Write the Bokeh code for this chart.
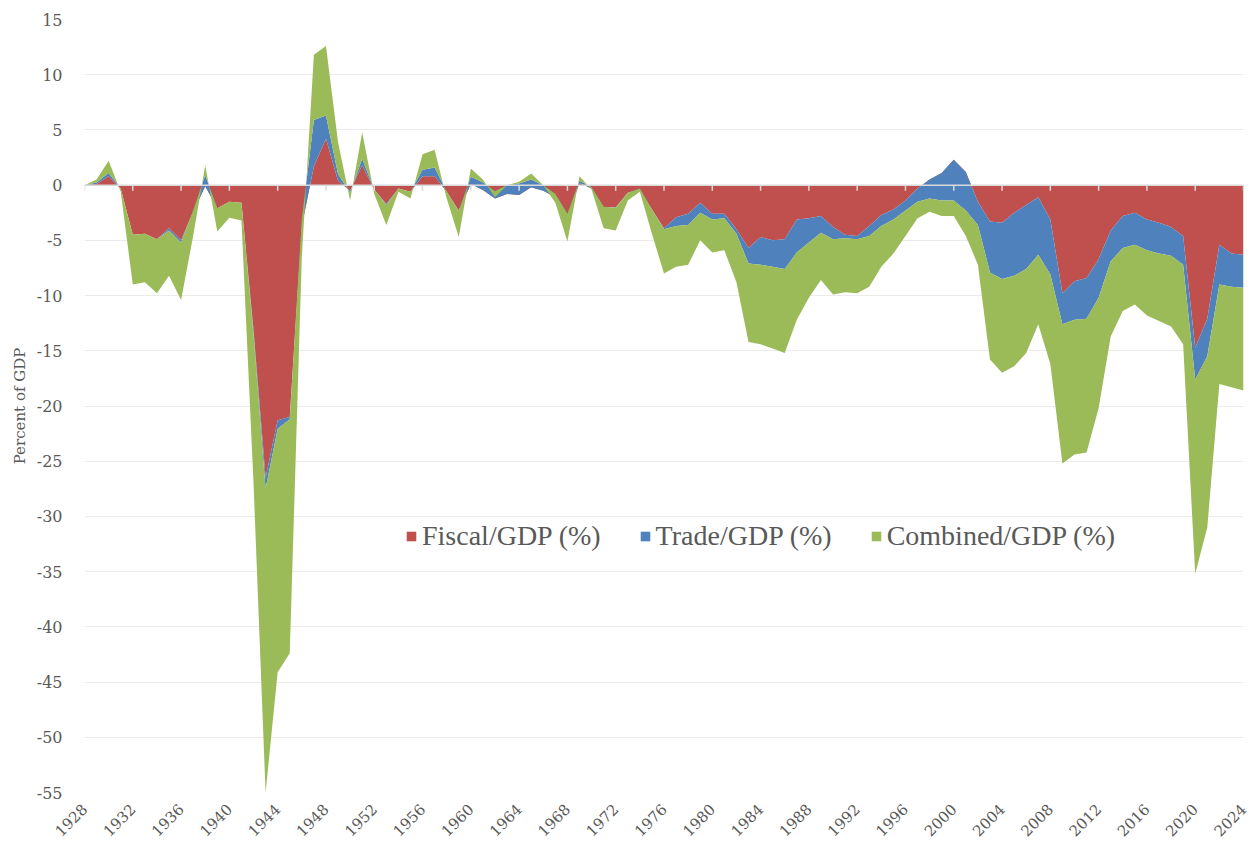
import math
from bokeh.plotting import figure
from bokeh.models import (Range1d, FixedTicker, Span, Legend, LegendItem,
                          ColumnDataSource, PrintfTickFormatter)
from bokeh.embed import file_html
from bokeh.resources import INLINE

years = list(range(1928, 2025))

fiscal = [
    0.0, 0.1, 0.8, -0.3, -4.5, -4.4, -4.9, -3.9, -5.0, -2.4,
    -0.1, -2.1, -1.5, -1.6, -13.1, -26.5, -21.3, -21.0, -3.7, 1.7,
    4.2, 0.4, -0.5, 1.8, -0.4, -1.7, -0.3, -0.6, 0.8, 0.8,
    -0.6, -2.3, 0.1, -0.45, -1.2, -0.8, -0.9, -0.2, -0.5, -1.1,
    -2.8, 0.2, -0.3, -2.0, -2.0, -0.7, -0.4, -2.2, -3.9, -2.9,
    -2.6, -1.6, -2.6, -2.6, -4.0, -5.7, -4.7, -5.0, -4.9, -3.1,
    -3.0, -2.8, -3.8, -4.5, -4.6, -3.7, -2.7, -2.2, -1.4, -0.3,
    0.5, 1.1, 2.3, 1.2, -1.5, -3.3, -3.4, -2.5, -1.8, -1.1,
    -3.1, -9.8, -8.7, -8.4, -6.7, -4.1, -2.8, -2.5, -3.1, -3.4,
    -3.8, -4.6, -14.7, -12.1, -5.4, -6.2, -6.3,
]

trade = [
    0.0, 0.15, 0.3, 0.0, 0.0, 0.0, 0.0, -0.2, -0.2, 0.1,
    1.0, 0.0, 0.0, 0.0, -0.4, -1.0, -0.75, -0.2, 0.6, 4.2,
    2.1, 0.6, -0.2, 0.6, 0.0, -0.1, 0.0, 0.0, 0.6, 0.8,
    0.0, -0.05, 0.65, 0.7, 0.65, 0.8, 1.05, 0.7, 0.5, 0.3,
    0.2, 0.2, 0.1, 0.05, -0.05, 0.0, 0.1, 0.0, -0.1, -0.8,
    -1.0, -0.9, -0.5, -0.4, -0.4, -1.4, -2.5, -2.4, -2.7, -3.0,
    -2.2, -1.5, -1.1, -0.3, -0.3, -0.9, -1.0, -0.9, -0.9, -1.2,
    -1.7, -2.5, -3.7, -3.5, -2.1, -4.6, -5.1, -5.7, -5.8, -5.2,
    -5.0, -2.8, -3.5, -3.7, -3.5, -2.8, -2.9, -2.9, -2.8, -2.8,
    -2.6, -2.6, -2.9, -3.4, -3.6, -3.0, -3.0,
]

combined = [
    0.0, 0.25, 1.1, -0.3, -4.5, -4.4, -4.9, -4.1, -5.2, -2.3,
    0.9, -2.1, -1.45, -1.6, -13.5, -27.5, -22.05, -21.2, -3.4, 5.9,
    6.3, 2.9, -0.7, 2.4, -0.4, -1.8, -0.3, -0.6, 1.4, 1.6,
    -0.6, -2.35, 0.75, 0.25, -0.55, 0.0, 0.15, 0.55, 0.0, -0.8,
    -2.5, 0.4, -0.2, -1.95, -2.05, -0.7, -0.3, -2.2, -4.0, -3.7,
    -3.6, -2.5, -3.0, -2.9, -4.4, -7.1, -7.2, -7.4, -7.6, -6.1,
    -5.0, -4.3, -5.0, -4.9, -4.9, -4.6, -3.7, -3.1, -2.3, -1.5,
    -1.2, -1.4, -1.4, -2.3, -3.6, -7.9, -8.5, -8.2, -7.6, -6.3,
    -8.1, -12.6, -12.2, -12.1, -10.0, -6.8, -5.7, -5.4, -5.9, -6.1,
    -6.4, -7.2, -17.6, -15.5, -9.0, -9.1, -9.3,
]

series_names = ["Fiscal/GDP (%)", "Trade/GDP (%)", "Combined/GDP (%)"]
series_colors = ["#c0504d", "#4f81bd", "#9bbb59"]
x_ticks = list(range(1928, 2025, 4))
y_ticks = list(range(-55, 16, 5))

TEXT = "#595959"
SERIF = "DejaVu Serif"

p = figure(width=1251, height=844, output_backend="svg", toolbar_location=None,
           x_range=Range1d(1928, 2024), y_range=Range1d(-55, 15),
           min_border_left=84, min_border_right=8, min_border_top=19,
           min_border_bottom=52)
p.outline_line_color = None
p.background_fill_color = "white"
p.border_fill_color = "white"

src = ColumnDataSource(dict(year=years, fiscal=fiscal, trade=trade,
                            combined=combined))
rs = p.varea_stack(["fiscal", "trade", "combined"], x="year", source=src,
                   color=series_colors)

# zero line with tick marks (category axis crossing at 0)
p.add_layout(Span(location=0, dimension="width", line_color="#d9d9d9",
                  line_width=1.5, level="overlay"))
tsrc = ColumnDataSource(dict(x=x_ticks, y0=[0] * len(x_ticks),
                             y1=[-0.5] * len(x_ticks)))
p.segment(x0="x", y0="y0", x1="x", y1="y1", source=tsrc,
          line_color="#d9d9d9", line_width=1.5)

# axes
p.xaxis.ticker = FixedTicker(ticks=x_ticks)
p.xaxis.major_label_orientation = math.pi / 4
p.xaxis.axis_line_color = None
p.xaxis.major_tick_line_color = None
p.xaxis.minor_tick_line_color = None
p.xaxis.major_label_text_font = SERIF
p.xaxis.major_label_text_font_size = "15px"
p.xaxis.major_label_text_color = TEXT
p.xaxis.major_label_standoff = 8

p.yaxis.ticker = FixedTicker(ticks=y_ticks)
p.yaxis.formatter = PrintfTickFormatter(format="%d")
p.yaxis.axis_line_color = None
p.yaxis.major_tick_line_color = None
p.yaxis.minor_tick_line_color = None
p.yaxis.major_label_text_font = SERIF
p.yaxis.major_label_text_font_size = "16px"
p.yaxis.major_label_text_color = TEXT
p.yaxis.major_label_standoff = 16
p.yaxis.axis_label = "Percent of GDP"
p.yaxis.axis_label_text_font = SERIF
p.yaxis.axis_label_text_font_size = "15px"
p.yaxis.axis_label_text_font_style = "normal"
p.yaxis.axis_label_text_color = TEXT
p.yaxis.axis_label_standoff = 5

p.xgrid.visible = False
p.ygrid.grid_line_color = "#ebebeb"
p.ygrid.grid_line_width = 1

legend = Legend(items=[LegendItem(label=n, renderers=[r])
                       for n, r in zip(series_names, rs)],
                location=(321, 240), orientation="horizontal",
                label_text_font="Liberation Serif", label_text_font_size="28px",
                label_text_color=TEXT, glyph_width=12, glyph_height=12,
                label_standoff=5, spacing=38, padding=0, margin=0,
                border_line_color=None, background_fill_alpha=0)
p.add_layout(legend, "center")

open("out.html", "w").write(file_html(p, INLINE))
